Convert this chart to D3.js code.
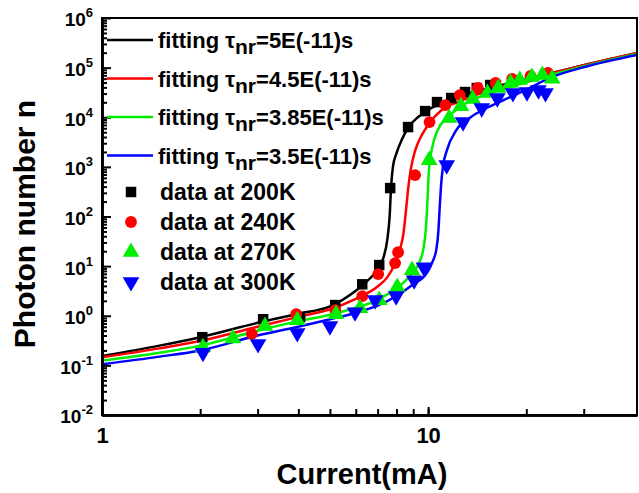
<!DOCTYPE html>
<html>
<head>
<meta charset="utf-8">
<script src="https://cdn.jsdelivr.net/npm/d3@7"></script>
<style>
body { margin: 0; background: #fff; }
svg { display: block; font-family: "Liberation Sans", Arial, sans-serif; font-weight: bold; }
</style>
</head>
<body>
<svg width="639" height="493"></svg>
<script>
var current200 = [2.03, 3.12, 4.05, 5.19, 6.28, 7.08, 7.65, 8.68, 9.79, 10.65, 11.77, 12.98, 14.1, 15.5];
var photons200 = [0.37, 0.85, 0.94, 1.64, 4.3, 10.5, 374, 6340, 13300, 20200, 24400, 32200, 38800, 44600];

var current240 = [2.88, 3.94, 5.19, 6.28, 7.03, 7.92, 8.09, 9.12, 10.1, 11.3, 12.5, 14.2, 16.1, 18.1, 20.6, 23.3];
var photons240 = [0.43, 1.08, 1.30, 2.48, 6.9, 11.5, 19, 684, 8000, 17600, 28000, 38800, 49000, 58900, 67800, 77800];

var current270 = [2.04, 2.52, 3.16, 3.97, 5.22, 6.18, 7.08, 8.04, 8.93, 10.07, 11.6, 12.6, 13.7, 15.2, 16.4, 17.9, 19.1, 20.8, 22.4, 24.0];
var photons270 = [0.23, 0.35, 0.62, 0.81, 1.08, 1.42, 2.06, 3.78, 8.3, 1370, 9640, 16800, 23300, 30800, 38800, 49000, 56200, 64600, 71000, 60000];

var current300 = [2.04, 3.01, 3.97, 5.0, 5.97, 6.88, 7.98, 9.06, 9.7, 11.4, 12.8, 14.6, 16.3, 18.2, 20.1, 21.8, 22.9];
var photons300 = [0.18, 0.27, 0.45, 0.62, 1.18, 2.06, 2.48, 5.2, 9.5, 1090, 8000, 15300, 24400, 30800, 32200, 35300, 30800];

// fitted curves
var fitCurrent50 = [1, 1.5, 2, 3, 4, 5, 6, 6.5, 7, 7.3, 7.5, 7.62, 7.7, 7.8, 8.0, 8.3, 8.7, 9.3, 10, 12, 15, 18, 23.6, 31, 43.7];
var fitPhotons50 = [0.155, 0.25, 0.37, 0.72, 1.1, 1.55, 3.2, 5.0, 8.5, 15, 35, 100, 400, 1000, 1900, 3500, 6300, 10000, 14000, 24000, 37000, 50000, 76000, 118000, 197000];

var fitCurrent45 = [1, 1.5, 2, 3, 4, 5, 6, 7, 7.5, 7.9, 8.2, 8.4, 8.55, 8.7, 8.85, 9.1, 9.4, 10, 11, 12.3, 15, 18, 23.6, 31, 43.7];
var fitPhotons45 = [0.145, 0.22, 0.31, 0.6, 0.95, 1.35, 2.2, 3.9, 6.0, 11, 22, 45, 130, 400, 900, 2000, 3500, 7000, 14000, 20000, 33000, 47000, 75000, 117000, 195000];

var fitCurrent385 = [1, 1.5, 2, 3, 4, 5, 6, 7, 8, 8.5, 9, 9.4, 9.7, 9.85, 9.95, 10.05, 10.3, 10.7, 11.5, 12.5, 14, 16, 19, 23.6, 31, 43.7];
var fitPhotons385 = [0.125, 0.18, 0.25, 0.5, 0.78, 1.05, 1.45, 2.1, 3.6, 5.0, 7.5, 12, 25, 60, 200, 800, 2500, 5500, 10000, 16000, 24000, 33000, 46000, 70000, 112000, 188000];

var fitCurrent35 = [1, 1.5, 2, 3, 4, 5, 6, 7, 8, 9, 9.9, 10.3, 10.6, 10.75, 10.85, 10.95, 11.1, 11.4, 12.2, 13.5, 15, 17, 20, 23.6, 31, 43.7];
var fitPhotons35 = [0.105, 0.15, 0.2, 0.4, 0.6, 0.85, 1.15, 1.6, 2.5, 4.3, 7.2, 12, 22, 50, 150, 400, 1000, 2100, 5500, 10000, 15000, 22000, 36000, 62000, 108000, 180000];

var fitLabels = ['5E(-11)s', '4.5E(-11)s', '3.85E(-11)s', '3.5E(-11)s'];
var dataLabels = ['data at 200K', 'data at 240K', 'data at 270K', 'data at 300K'];

var xTickValues = [1, 2, 3, 4, 5, 6, 7, 8, 9, 10, 20, 30];
var xTickLabels = [1, 10];
var yTickExponents = [-2, -1, 0, 1, 2, 3, 4, 5, 6];

var chart = chart || {};

chart.painter = function() {
    'use strict';

    var colors = ['#000000', '#ff0000', '#00ee00', '#0000ff'];
    var left = 102, right = 637, top = 18, bottom = 415;

    var x = d3.scaleLog().domain([1, 43.7]).range([left, right]);
    var y = d3.scaleLog().domain([1e-2, 1e6]).range([bottom, top]);

    function zip(xs, ys) {
        return xs.map(function(v, i) { return {x: v, y: ys[i]}; });
    }

    function symbolFor(i) {
        if (i === 0) return d3.symbol().type(d3.symbolSquare).size(110)();
        if (i === 1) return d3.symbol().type(d3.symbolCircle).size(110)();
        return d3.symbol().type(d3.symbolTriangle).size(120)();
    }

    function drawAxes(svg) {
        svg.append('rect')
            .attr('x', left).attr('y', top)
            .attr('width', right - left).attr('height', bottom - top)
            .attr('fill', 'none').attr('stroke', '#000').attr('stroke-width', 2);

        // x axis: minor ticks then labelled majors
        svg.append('g').attr('transform', 'translate(0,' + bottom + ')')
            .call(d3.axisBottom(x).tickValues(xTickValues).tickSizeInner(-6).tickSizeOuter(0).tickFormat(''));
        var xMajor = svg.append('g').attr('transform', 'translate(0,' + bottom + ')')
            .call(d3.axisBottom(x).tickValues(xTickLabels).tickSizeInner(-8).tickSizeOuter(0)
                .tickPadding(12).tickFormat(d3.format('d')));
        xMajor.selectAll('text').attr('font-size', 22).attr('font-family', null).attr('fill', '#000');

        // y axis: minor ticks for each decade
        var yMinorValues = [];
        yTickExponents.slice(0, -1).forEach(function(e) {
            for (var k = 2; k <= 9; k++) yMinorValues.push(k * Math.pow(10, e));
        });
        svg.append('g').attr('transform', 'translate(' + left + ',0)')
            .call(d3.axisLeft(y).tickValues(yMinorValues).tickSizeInner(-5).tickSizeOuter(0).tickFormat(''));
        var yMajor = svg.append('g').attr('transform', 'translate(' + left + ',0)')
            .call(d3.axisLeft(y).tickValues(yTickExponents.map(function(e) { return Math.pow(10, e); }))
                .tickSizeInner(-9).tickSizeOuter(0).tickPadding(9));

        yMajor.selectAll('.tick text').each(function(d, i) {
            var t = d3.select(this).text(null)
                .attr('font-size', 19).attr('font-family', null).attr('fill', '#000').attr('dy', '0.42em');
            t.append('tspan').text('10');
            t.append('tspan').attr('font-size', 13).attr('dy', -9).text(yTickExponents[i]);
        });

        svg.selectAll('.domain').attr('stroke-width', 2.5);
        svg.selectAll('.tick line').attr('stroke-width', 2);
        svg.selectAll('.domain, .tick line').attr('stroke', '#000');

        svg.append('text')
            .attr('x', 362).attr('y', 484)
            .attr('text-anchor', 'middle').attr('font-size', 29)
            .text('Current(mA)');

        svg.append('text')
            .attr('transform', 'translate(35,224) rotate(-90)')
            .attr('text-anchor', 'middle').attr('font-size', 30)
            .text('Photon number n');
    }

    function drawCurves(svg) {
        var fits = [
            zip(fitCurrent50, fitPhotons50),
            zip(fitCurrent45, fitPhotons45),
            zip(fitCurrent385, fitPhotons385),
            zip(fitCurrent35, fitPhotons35)
        ];
        var line = d3.line()
            .x(function(d) { return x(d.x); })
            .y(function(d) { return y(d.y); })
            .curve(d3.curveMonotoneX);

        svg.append('clipPath').attr('id', 'plot-clip')
            .append('rect').attr('x', left).attr('y', top)
            .attr('width', right - left).attr('height', bottom - top);

        svg.append('g').attr('clip-path', 'url(#plot-clip)')
            .selectAll('path')
            .data(fits)
            .enter()
            .append('path')
            .attr('d', line)
            .attr('fill', 'none')
            .attr('stroke', function(d, i) { return colors[i]; })
            .attr('stroke-width', 2.5);
    }

    function drawPoints(svg) {
        var sets = [
            zip(current200, photons200),
            zip(current240, photons240),
            zip(current270, photons270),
            zip(current300, photons300)
        ];
        sets.forEach(function(points, i) {
            svg.append('g').selectAll('path')
                .data(points)
                .enter()
                .append('path')
                .attr('d', symbolFor(i))
                .attr('transform', function(d) {
                    return 'translate(' + x(d.x) + ',' + y(d.y) + ')' + (i === 3 ? ' rotate(180)' : '');
                })
                .attr('fill', colors[i]);
        });
    }

    function drawLegend(svg) {
        var fitRows = svg.append('g').selectAll('g')
            .data(fitLabels)
            .enter()
            .append('g')
            .attr('transform', function(d, i) { return 'translate(0,' + (40 + i * 38.5) + ')'; });
        fitRows.append('line')
            .attr('x1', 107).attr('x2', 153)
            .attr('stroke', function(d, i) { return colors[i]; })
            .attr('stroke-width', 2.5);
        var fitText = fitRows.append('text')
            .attr('x', 158).attr('y', 8).attr('font-size', 22);
        fitText.append('tspan').text('fitting ');
        fitText.append('tspan').text('\u03c4');
        fitText.append('tspan').attr('dy', 6).attr('font-size', 21).text('nr');
        fitText.append('tspan').attr('dy', -6).text(function(d) { return '=' + d; });

        var dataRows = svg.append('g').selectAll('g')
            .data(dataLabels)
            .enter()
            .append('g')
            .attr('transform', function(d, i) { return 'translate(0,' + (192 + i * 30) + ')'; });
        dataRows.append('path')
            .attr('d', function(d, i) { return symbolFor(i); })
            .attr('transform', function(d, i) { return 'translate(131,0)' + (i === 3 ? ' rotate(180)' : ''); })
            .attr('fill', function(d, i) { return colors[i]; });
        dataRows.append('text')
            .attr('x', 160).attr('y', 8).attr('font-size', 23)
            .text(function(d) { return d; });
    }

    return {
        apply_to_page: function() {
            var svg = d3.select('svg');
            drawCurves(svg);
            drawPoints(svg);
            drawAxes(svg);
            drawLegend(svg);
        }
    };
};

chart.painter().apply_to_page();
</script>
</body>
</html>
